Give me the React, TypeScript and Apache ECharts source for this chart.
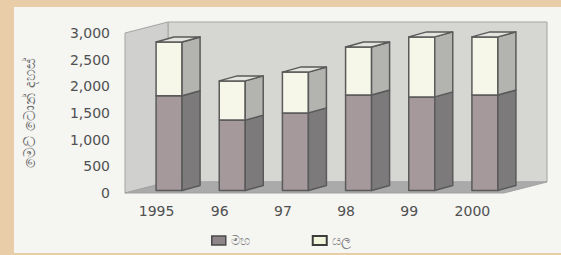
import React, { useEffect, useRef } from "react";
import * as echarts from "echarts";

const years = ["1995", "96", "97", "98", "99", "2000"];
const mahaValues = [1775, 1320, 1455, 1790, 1755, 1790];
const yalaValues = [1010, 735, 765, 900, 1125, 1090];
const seriesNames = ["මහ", "යල"];
const yAxisTitle = "මෙට් ටොන් දහස්";

// projection constants (pixels)
const WALL_DX = 43;
const WALL_DY = -11;
const BAR_OX = 12.5;
const BAR_OY = -2.5;
const BAR_W = 26;
const BAR_DX = 18;
const BAR_DY = -5;
const OUTLINE = "#5a5a5a";

function barRenderer(face: string, side: string, top: string, drawTop: boolean) {
  return (params: any, api: any) => {
    const i = api.value(0);
    const base = api.value(1);
    const end = api.value(2);
    const c0 = api.coord([i, base]);
    const c1 = api.coord([i, end]);
    const xl = c0[0] - BAR_W / 2 + BAR_OX;
    const yb = c0[1] + BAR_OY;
    const yt = c1[1] + BAR_OY;
    const st = { stroke: OUTLINE, lineWidth: 1.5, lineJoin: "round" };
    const children: any[] = [
      {
        type: "polygon",
        shape: { points: [[xl, yt], [xl + BAR_W, yt], [xl + BAR_W, yb], [xl, yb]] },
        style: { fill: face, ...st },
      },
      {
        type: "polygon",
        shape: {
          points: [
            [xl + BAR_W, yt],
            [xl + BAR_W + BAR_DX, yt + BAR_DY],
            [xl + BAR_W + BAR_DX, yb + BAR_DY],
            [xl + BAR_W, yb],
          ],
        },
        style: { fill: side, ...st },
      },
    ];
    if (drawTop) {
      children.push({
        type: "polygon",
        shape: {
          points: [
            [xl, yt],
            [xl + BAR_DX, yt + BAR_DY],
            [xl + BAR_W + BAR_DX, yt + BAR_DY],
            [xl + BAR_W, yt],
          ],
        },
        style: { fill: top, ...st },
      });
    }
    return { type: "group", children };
  };
}

export default function App() {
  const ref = useRef<HTMLDivElement>(null);
  useEffect(() => {
    if (!ref.current) return;
    const chart = echarts.init(ref.current, null, { renderer: "svg" });
    const mahaData = mahaValues.map((v, i) => [i, 0, v]);
    const yalaData = yalaValues.map((v, i) => [i, mahaValues[i], mahaValues[i] + v]);
    chart.setOption({
      animation: false,
      backgroundColor: "transparent",
      textStyle: { fontFamily: "DejaVu Sans, Noto Sans, sans-serif" },
      grid: { left: 125, top: 33, width: 379, height: 160 },
      xAxis: {
        type: "category",
        data: years,
        boundaryGap: true,
        axisLine: { show: false },
        axisTick: { show: false },
        axisLabel: { color: "#505050", fontSize: 14, margin: 11 },
      },
      yAxis: {
        type: "value",
        min: 0,
        max: 3000,
        interval: 500,
        name: yAxisTitle,
        nameLocation: "middle",
        nameRotate: 90,
        nameGap: 88,
        nameTextStyle: { color: "#6a6a6a", fontSize: 15 },
        axisLine: { show: false },
        axisTick: { show: false },
        splitLine: { show: false },
        axisLabel: {
          color: "#505050",
          fontSize: 14,
          margin: 15,
          formatter: (v: number) => v.toLocaleString("en-US"),
        },
      },
      legend: {
        left: 206,
        top: 229,
        itemWidth: 14,
        itemHeight: 9,
        itemGap: 62,
        textStyle: { color: "#808080", fontSize: 13 },
        data: [
          {
            name: seriesNames[0],
            icon: "rect",
            itemStyle: { color: "#8e8588", borderColor: "#4a4a4a", borderWidth: 1.5 },
          },
          {
            name: seriesNames[1],
            icon: "rect",
            itemStyle: { color: "#f2f4dc", borderColor: "#3c3c3c", borderWidth: 2 },
          },
        ],
      },
      series: [
        {
          type: "custom",
          z: 1,
          silent: true,
          data: [[0, 0]],
          encode: { x: 0, y: 1 },
          renderItem: (params: any) => {
            const cs = params.coordSys;
            const x = cs.x, y = cs.y, w = cs.width, h = cs.height;
            const ws = { stroke: "#a3a3a3", lineWidth: 1 };
            return {
              type: "group",
              children: [
                {
                  type: "polygon",
                  shape: {
                    points: [
                      [x + WALL_DX, y + WALL_DY],
                      [x + w + WALL_DX, y + WALL_DY],
                      [x + w + WALL_DX, y + h + WALL_DY],
                      [x + WALL_DX, y + h + WALL_DY],
                    ],
                  },
                  style: { fill: "#d6d6d3", ...ws },
                },
                {
                  type: "polygon",
                  shape: {
                    points: [
                      [x, y],
                      [x + WALL_DX, y + WALL_DY],
                      [x + WALL_DX, y + h + WALL_DY],
                      [x, y + h],
                    ],
                  },
                  style: { fill: "#d0d0ce", ...ws },
                },
                {
                  type: "polygon",
                  shape: {
                    points: [
                      [x, y + h],
                      [x + WALL_DX, y + h + WALL_DY],
                      [x + w + WALL_DX, y + h + WALL_DY],
                      [x + w, y + h],
                    ],
                  },
                  style: { fill: "#aaaaaa", ...ws },
                },
              ],
            };
          },
        },
        {
          name: seriesNames[0],
          type: "custom",
          z: 2,
          data: mahaData,
          encode: { x: 0, y: [1, 2] },
          itemStyle: { color: "#a3979a" },
          renderItem: barRenderer("#a5999c", "#7d7a7b", "#c9c3c4", false),
        },
        {
          name: seriesNames[1],
          type: "custom",
          z: 3,
          data: yalaData,
          encode: { x: 0, y: [1, 2] },
          itemStyle: { color: "#f6f6e8" },
          renderItem: barRenderer("#f6f6e9", "#b3b3af", "#e4e4de", true),
        },
      ],
    });
    return () => chart.dispose();
  }, []);

  return (
    <div
      style={{
        position: "fixed",
        left: 0,
        top: 0,
        width: 561,
        height: 255,
        background: "#e9cda8",
      }}
    >
      <div
        style={{
          position: "absolute",
          left: 14,
          top: 7,
          width: 547,
          height: 246,
          background: "#f5f5f2",
        }}
      />
      <div ref={ref} style={{ position: "absolute", left: 0, top: 0, width: 561, height: 255 }} />
    </div>
  );
}
